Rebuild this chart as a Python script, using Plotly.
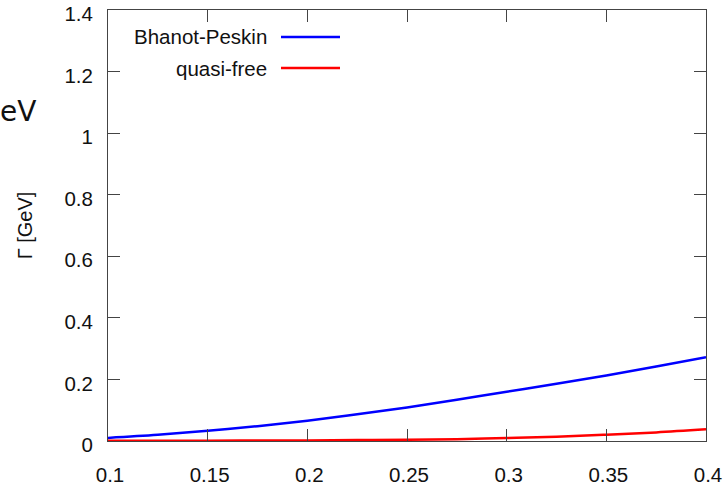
import plotly.graph_objects as go

x_vals = [0.1, 0.125, 0.15, 0.175, 0.2, 0.225, 0.25, 0.275, 0.3, 0.325, 0.35, 0.375, 0.4]
bhanot_peskin = [0.010, 0.020, 0.033, 0.048, 0.066, 0.087, 0.109, 0.134, 0.160, 0.186, 0.213, 0.242, 0.272]
quasi_free = [0.0005, 0.0007, 0.001, 0.0015, 0.002, 0.003, 0.004, 0.006, 0.0097, 0.014, 0.0205, 0.028, 0.038]
x_ticks = [0.1, 0.15, 0.2, 0.25, 0.3, 0.35, 0.4]
x_tick_text = ["0.1", "0.15", "0.2", "0.25", "0.3", "0.35", "0.4"]
y_ticks = [0, 0.2, 0.4, 0.6, 0.8, 1.0, 1.2, 1.4]
y_tick_text = ["0", "0.2", "0.4", "0.6", "0.8", "1", "1.2", "1.4"]
series_names = ["Bhanot-Peskin", "quasi-free"]
series_colors = ["#0000ff", "#ff0000"]

FONT = "Liberation Sans, Arial, sans-serif"
FS = 20.5
L, R, T, B = 108, 706, 10, 441
PW, PH = R - L, B - T

fig = go.Figure()
for name, ys, col in zip(series_names, [bhanot_peskin, quasi_free], series_colors):
    fig.add_trace(go.Scatter(x=x_vals, y=ys, mode="lines", name=name,
                             line=dict(color=col, width=2.5, shape="spline"),
                             showlegend=False))

axis_common = dict(showgrid=False, zeroline=False, showline=True, mirror="ticks",
                   linecolor="#444444", linewidth=1, ticks="inside", ticklen=12,
                   tickcolor="#444444", tickwidth=1, automargin=False,
                   ticklabeloverflow="allow",
                   tickfont=dict(family=FONT, size=FS, color="#111111"))

fig.update_xaxes(range=[0.1, 0.4], tickvals=x_ticks, ticktext=x_tick_text,
                 ticklabelstandoff=15, ticklabelshift=2, **axis_common)
fig.update_yaxes(range=[0, 1.4], tickvals=y_ticks, ticktext=y_tick_text,
                 ticklabelstandoff=10, ticklabelshift=4,
                 title=dict(text="Γ [GeV]", font=dict(family=FONT, size=20, color="#111111"),
                            standoff=26),
                 **axis_common)

# legend (text right-aligned, sample line on the right)
leg_py = [37, 68]
for name, col, py in zip(series_names, series_colors, leg_py):
    yy = (B - py) / PH
    fig.add_annotation(xref="paper", yref="paper", x=(269 - L) / PW, y=yy,
                       text=name, showarrow=False, xanchor="right", yanchor="middle",
                       font=dict(family=FONT, size=FS, color="#111111"))
    fig.add_shape(type="line", xref="paper", yref="paper",
                  x0=(281 - L) / PW, x1=(340 - L) / PW, y0=yy, y1=yy,
                  line=dict(color=col, width=2.5))

fig.add_annotation(xref="paper", yref="paper", x=(0 - L) / PW, y=(B - 112) / PH,
                   text="eV", showarrow=False, xanchor="left", yanchor="middle",
                   xshift=-2, font=dict(family="DejaVu Sans", size=28, color="#111111"))

fig.update_layout(width=723, height=489, margin=dict(l=L, r=723 - R, t=T, b=489 - B),
                  paper_bgcolor="white", plot_bgcolor="white")

fig.write_html("out.html")
